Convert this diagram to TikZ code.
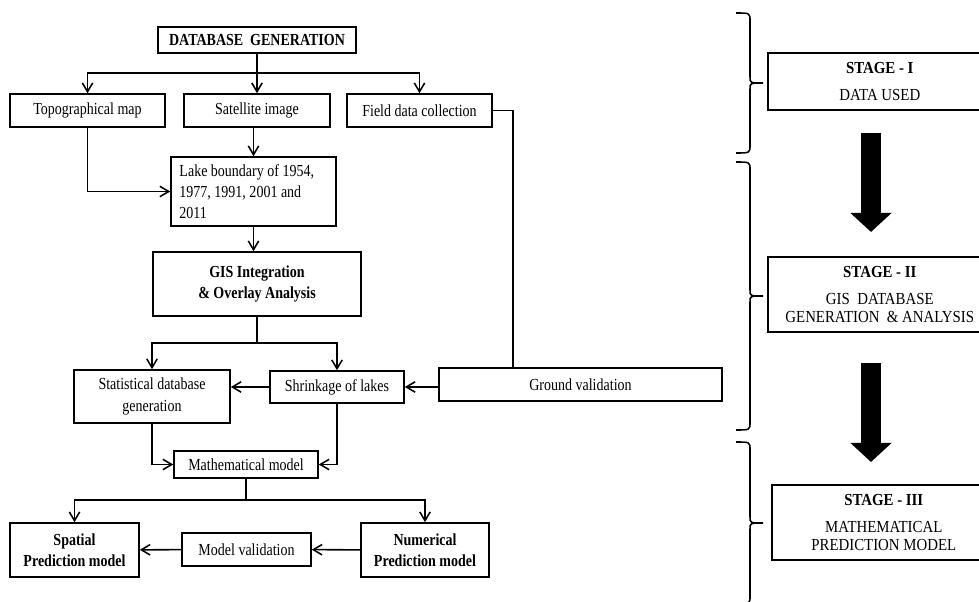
\documentclass[tikz,border=0pt]{standalone}
\usepackage{fontspec}
\setmainfont{Liberation Serif}[FakeStretch=0.83]
\newfontfamily\stagefont{Liberation Serif}[FakeStretch=0.88]
\usetikzlibrary{arrows.meta}

\newcommand{\stagebrace}[3]{%
  \draw[bracestyle] (#1-14,#2) .. controls (#1,#2) .. (#1,#2+8)
    -- (#1,{(#2+#3)/2-6}) .. controls (#1,{(#2+#3)/2}) .. (#1+13,{(#2+#3)/2})
    .. controls (#1,{(#2+#3)/2}) .. (#1,{(#2+#3)/2+6})
    -- (#1,#3-8) .. controls (#1,#3) .. (#1-14,#3);}

\begin{document}
\begin{tikzpicture}[x=0.025cm,y=-0.025cm,
  box/.style={draw,line width=1.1pt,inner sep=0pt,align=center,font=\fontsize{12}{15}\selectfont},
  boldbox/.style={box,font=\bfseries\fontsize{12}{15}\selectfont},
  stagebox/.style={draw,line width=1.1pt,inner sep=0pt,align=center,anchor=west,minimum width=5.6cm,font=\stagefont\fontsize{12}{13}\selectfont},
  link/.style={line width=1.1pt},
  flow/.style={line width=1.1pt,-{Straight Barb[length=2.2mm,width=2.6mm]}},
  bigarrow/.style={line width=0.5cm,-{Triangle[length=0.475cm,width=1cm]}},
  bracestyle/.style={line width=1.1pt}]
\useasboundingbox (0,0) rectangle (979,602);

\node[boldbox,minimum width=4.95cm,minimum height=0.65cm] (dbgen) at (257,40) {DATABASE~ GENERATION};
\node[box,minimum width=3.875cm,minimum height=0.825cm] (topo) at (87.5,110.5) {Topographical map};
\node[box,minimum width=3.65cm,minimum height=0.825cm] (sat) at (257,110.5) {Satellite image};
\node[box,minimum width=3.625cm,minimum height=0.825cm] (field) at (419.5,110.5) {Field data collection};
\node[box,minimum width=4.125cm,minimum height=1.725cm,align=flush left,text width=3.7cm] (lake) at (253.5,191.5) {Lake boundary of 1954,\\1977, 1991, 2001 and\\2011};
\node[boldbox,minimum width=5.2cm,minimum height=1.6cm] (gis) at (257,284) {GIS Integration\\\& Overlay Analysis};
\node[box,minimum width=3.9cm,minimum height=1.325cm] (stat) at (152,396.5) {Statistical database\\generation};
\node[box,minimum width=3.35cm,minimum height=0.8cm] (shrink) at (337,387) {Shrinkage of lakes};
\node[box,minimum width=7.075cm,minimum height=0.825cm] (ground) at (580.5,384.5) {Ground validation};
\node[box,minimum width=3.6cm,minimum height=0.675cm] (math) at (246,464.5) {Mathematical model};
\node[boldbox,minimum width=3.225cm,minimum height=1.35cm] (spatial) at (74.5,550) {Spatial\\Prediction model};
\node[box,minimum width=3.225cm,minimum height=0.825cm] (modval) at (246.5,549.5) {Model validation};
\node[boldbox,minimum width=3.2cm,minimum height=1.35cm] (numer) at (425,550) {Numerical\\Prediction model};

\node[stagebox,minimum height=1.425cm] (stage1) at (767,81.5) {\textbf{STAGE - I}\\[6pt]DATA USED};
\node[stagebox,minimum height=1.875cm] (stage2) at (767,294.5) {\textbf{STAGE - II}\\[6pt]GIS~ DATABASE\\GENERATION~ \& ANALYSIS};
\node[stagebox,minimum height=1.875cm] (stage3) at (771,522.5) {\textbf{STAGE - III}\\[6pt]MATHEMATICAL\\PREDICTION MODEL};

\coordinate (split1) at (257,73);
\coordinate (split2) at (257,343);
\coordinate (split3) at (246,500);
\coordinate (fieldbend) at (513,0);

\draw[link] (dbgen) -- (split1);
\draw[flow] (split1) -| (topo);
\draw[flow] (split1) -- (sat);
\draw[flow] (split1) -| (field);
\draw[flow] (sat.south -| lake) -- (lake);
\draw[flow] (topo) |- (lake);
\draw[flow] (lake) -- (lake |- gis.north);
\draw[link] (gis) -- (split2);
\draw[flow] (split2) -| (stat);
\draw[flow] (split2) -| (shrink);
\draw[link] (field.east) -| (ground.north -| fieldbend);
\draw[flow] (ground.west |- shrink) -- (shrink);
\draw[flow] (shrink) -- (stat.east |- shrink);
\draw[flow] (stat) |- (math);
\draw[flow] (shrink) |- (math);
\draw[link] (math) -- (split3);
\draw[flow] (split3) -| (spatial);
\draw[flow] (split3) -| (numer);
\draw[flow] (numer) -- (modval);
\draw[flow] (modval) -- (spatial);

\coordinate (arr1top) at (871,133);
\coordinate (arr1tip) at (871,232);
\coordinate (arr2top) at (871,363);
\coordinate (arr2tip) at (871,462);
\draw[bigarrow] (arr1top) -- (arr1tip);
\draw[bigarrow] (arr2top) -- (arr2tip);

\stagebrace{750}{13}{153}
\stagebrace{750}{162}{430}
\stagebrace{750}{442}{604}
\end{tikzpicture}
\end{document}
